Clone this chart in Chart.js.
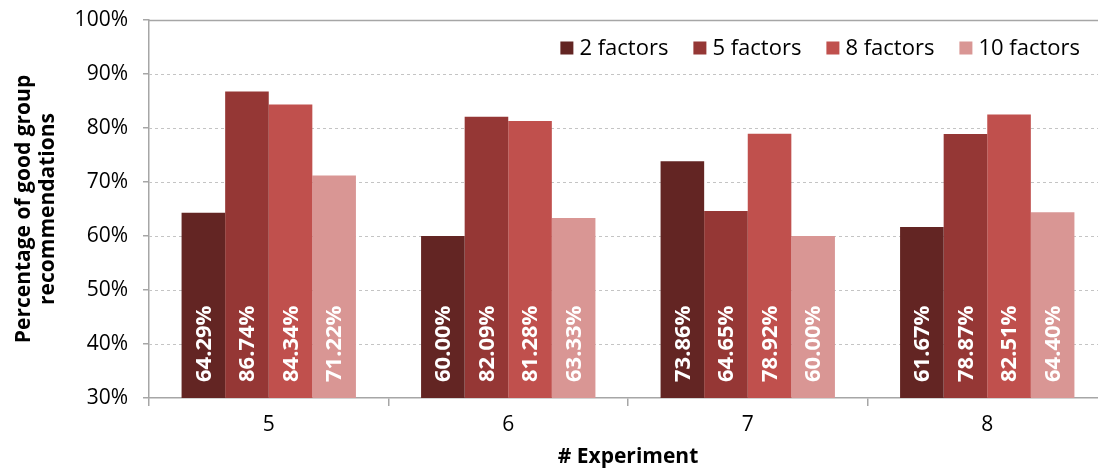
<!DOCTYPE html>
<html>
<head>
<meta charset="utf-8">
<script src="https://cdn.jsdelivr.net/npm/chart.js@4/dist/chart.umd.min.js"></script>
<style>
  html, body { margin: 0; padding: 0; background: #fff; overflow: hidden; }
  #wrap { width: 1112px; height: 468px; }
</style>
</head>
<body>
<div id="wrap"><canvas id="chart" width="1112" height="468"></canvas></div>
<script>
// Experiments on the x axis
const experiments = ['5', '6', '7', '8'];

// Share of good group recommendations (%) per number of factors
const factors2  = [64.29, 60.00, 73.86, 61.67];
const factors5  = [86.74, 82.09, 64.65, 78.87];
const factors8  = [84.34, 81.28, 78.92, 82.51];
const factors10 = [71.22, 63.33, 60.00, 64.40];

const seriesNames = ['2 factors', '5 factors', '8 factors', '10 factors'];
const seriesColors = ['#632523', '#953735', '#C0504D', '#D99694'];

// y axis range and step (%)
const yMin = 30, yMax = 100, yStep = 10;

const FONT = "'Open Sans', 'DejaVu Sans', sans-serif";
const AXIS_GREY = '#a6a6a6';

// Dotted horizontal grid plus the solid frame line at the top
const gridPlugin = {
  id: 'dottedGrid',
  beforeDatasetsDraw(chart) {
    const { ctx, chartArea: a, scales: { y } } = chart;
    ctx.save();
    y.ticks.forEach(t => {
      if (t.value === yMin) return;
      const py = Math.round(y.getPixelForValue(t.value)) + 0.5;
      ctx.beginPath();
      if (t.value === yMax) {
        ctx.setLineDash([]);
        ctx.strokeStyle = AXIS_GREY;
        ctx.lineWidth = 1.5;
      } else {
        ctx.setLineDash([3, 3]);
        ctx.strokeStyle = '#c4c4c4';
        ctx.lineWidth = 1;
      }
      ctx.moveTo(a.left, py);
      ctx.lineTo(a.right, py);
      ctx.stroke();
    });
    ctx.restore();
  }
};

// White rotated value labels near the base of every bar
const valueLabels = {
  id: 'valueLabels',
  afterDraw(chart) {
    const { ctx } = chart;
    const baseY = chart.scales.y.getPixelForValue(yMin);
    ctx.save();
    ctx.fillStyle = '#ffffff';
    ctx.font = 'bold 22px ' + FONT;
    ctx.textAlign = 'left';
    ctx.textBaseline = 'middle';
    chart.data.datasets.forEach((ds, di) => {
      const meta = chart.getDatasetMeta(di);
      meta.data.forEach((bar, i) => {
        const v = Number(ds.data[i]);
        const bx = bar.getProps(['x'], true).x;
        ctx.save();
        ctx.translate(bx, baseY - 16);
        ctx.rotate(-Math.PI / 2);
        ctx.fillText(v.toFixed(2) + '%', 0, 1);
        ctx.restore();
      });
    });
    ctx.restore();
  }
};

// Legend row in the upper right corner of the plot area
const cornerLegend = {
  id: 'cornerLegend',
  afterDraw(chart) {
    const { ctx, chartArea: a } = chart;
    const box = 13, gapText = 6, gapItem = 25;
    ctx.save();
    ctx.font = '22px ' + FONT;
    ctx.textBaseline = 'middle';
    ctx.textAlign = 'left';
    const items = chart.data.datasets.map(ds => ({ label: ds.label, color: ds.backgroundColor, w: ctx.measureText(ds.label).width }));
    const total = items.reduce((s, it) => s + box + gapText + it.w, 0) + gapItem * (items.length - 1);
    let x = a.right - 27 - total;
    const cy = a.top + 28;
    items.forEach(it => {
      ctx.fillStyle = it.color;
      ctx.fillRect(x, cy - box / 2, box, box);
      x += box + gapText;
      ctx.fillStyle = '#000';
      ctx.fillText(it.label, x, cy + 1);
      x += it.w + gapItem;
    });
    ctx.restore();
  }
};

const seriesData = [factors2, factors5, factors8, factors10];

new Chart(document.getElementById('chart'), {
  type: 'bar',
  data: {
    labels: experiments,
    datasets: seriesData.map((d, i) => ({
      label: seriesNames[i],
      data: d,
      backgroundColor: seriesColors[i],
      borderWidth: 0,
      categoryPercentage: 0.728,
      barPercentage: 1.0
    }))
  },
  options: {
    responsive: false,
    animation: false,
    devicePixelRatio: 1,
    layout: { padding: { top: 20, right: 5, bottom: 0, left: 0 } },
    plugins: {
      legend: { display: false },
      tooltip: { enabled: false }
    },
    scales: {
      x: {
        grid: { offset: true, drawOnChartArea: false, tickLength: 8, color: AXIS_GREY, lineWidth: 1.5 },
        border: { color: AXIS_GREY, width: 1.5 },
        ticks: { color: '#000', font: { family: FONT, size: 21 }, padding: 6 },
        title: { display: true, text: '# Experiment', color: '#000', font: { family: FONT, size: 21, weight: 'bold', lineHeight: 1.0 }, padding: { top: 0, bottom: 0 } },
        afterFit(scale) { scale.height = 70; }
      },
      y: {
        min: yMin,
        max: yMax,
        ticks: { stepSize: yStep, color: '#000', font: { family: FONT, size: 21 }, padding: 15, callback: v => v + '%' },
        grid: { drawOnChartArea: false, tickLength: 6, color: AXIS_GREY, lineWidth: 1.5 },
        border: { color: AXIS_GREY, width: 1.5 },
        title: {
          display: true,
          text: ['Percentage of good group', 'recommendations'],
          color: '#000',
          font: { family: FONT, size: 21, weight: 'bold', lineHeight: 1.15 },
          padding: { top: 12, bottom: 0 }
        },
        afterFit(scale) {
          scale.width = 149;
          scale.paddingTop = 0;
          scale.paddingBottom = 0;
        }
      }
    }
  },
  plugins: [gridPlugin, valueLabels, cornerLegend]
});
</script>
</body>
</html>
